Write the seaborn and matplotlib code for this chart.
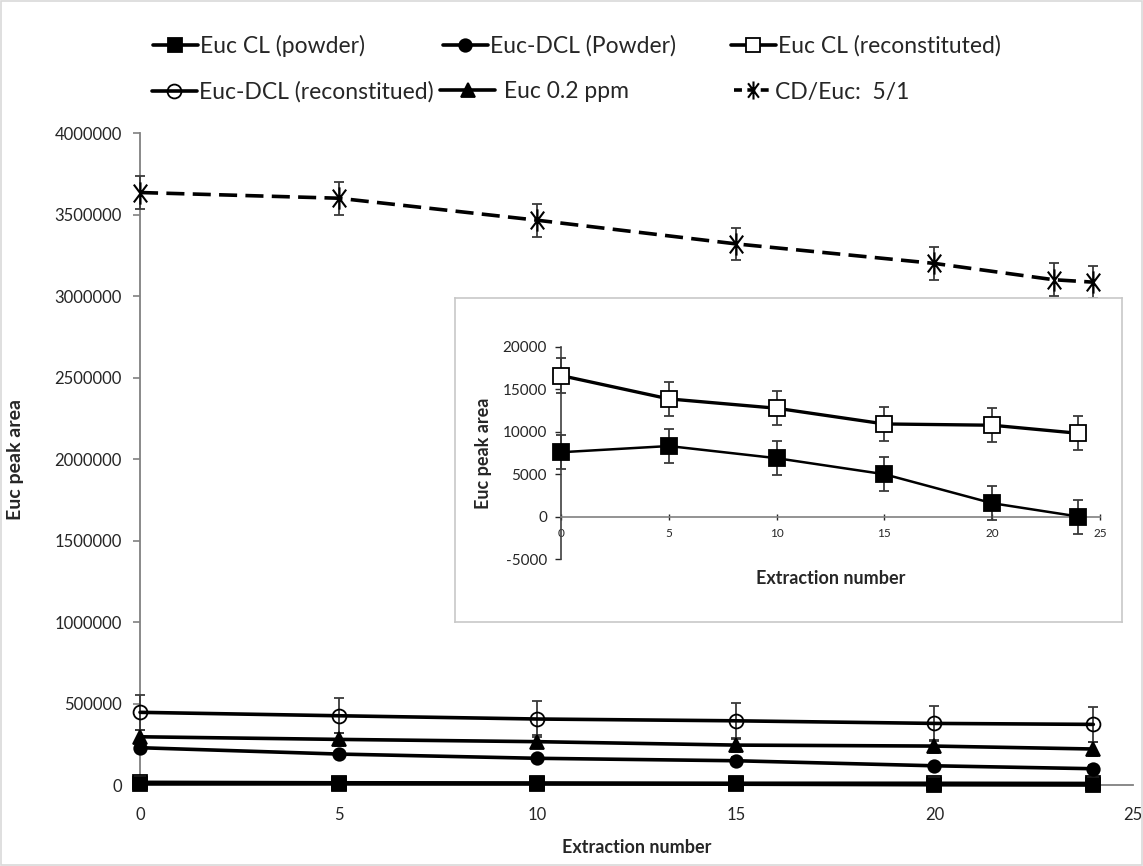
import numpy as np
import pandas as pd
import matplotlib
matplotlib.use("Agg")
import matplotlib.pyplot as plt
import seaborn as sns
from matplotlib.path import Path
from matplotlib.lines import Line2D
from matplotlib.patches import Rectangle

# ---------------- data ----------------
x_main = [0, 5, 10, 15, 20, 24]
x_cd = [0, 5, 10, 15, 20, 23, 24]

cl_powder = [7570, 8300, 6870, 4980, 1570, 0]
cl_powder_err = [2000, 2000, 2000, 2000, 2000, 2000]
cl_recon = [16600, 13850, 12750, 10900, 10750, 9800]
cl_recon_err = [2100, 2000, 2000, 2000, 2000, 2000]
dcl_powder = [229000, 190000, 164000, 149000, 118000, 100000]
dcl_powder_err = [20000, 20000, 20000, 20000, 20000, 20000]
dcl_recon = [446000, 425000, 405000, 394000, 378000, 372000]
dcl_recon_err = [108000, 108000, 108000, 108000, 108000, 108000]
euc_02 = [296000, 280000, 266000, 245000, 239000, 221000]
euc_02_err = [40000, 40000, 40000, 40000, 40000, 40000]
cd_euc = [3635000, 3600000, 3465000, 3320000, 3200000, 3100000, 3085000]
cd_euc_err = [100000, 100000, 100000, 100000, 100000, 100000, 100000]

labels = ["Euc CL (powder)", "Euc-DCL (Powder)", "Euc CL (reconstituted)",
          "Euc-DCL (reconstitued)", " Euc 0.2 ppm", "CD/Euc:  5/1"]
main_yticks = [0, 500000, 1000000, 1500000, 2000000, 2500000, 3000000, 3500000, 4000000]
main_xticks = [0, 5, 10, 15, 20, 25]
inset_yticks = [-5000, 0, 5000, 10000, 15000, 20000]
inset_xticks = [0, 5, 10, 15, 20, 25]

# ---------------- style ----------------
sns.set_style("white")
plt.rcParams['font.family'] = ['Lato', 'DejaVu Sans']

star = Path([(0, -1), (0, 1), (-0.6, -0.8), (0.6, 0.8), (-0.6, 0.8), (0.6, -0.8)],
            [Path.MOVETO, Path.LINETO, Path.MOVETO, Path.LINETO, Path.MOVETO, Path.LINETO])

ERR_C = '#3a3a3a'
AX_C = '#808080'

fig = plt.figure(figsize=(11.43, 8.66), dpi=100)
fig.patch.set_facecolor('white')
fig.patches.append(Rectangle((0.001, 0.001), 0.998, 0.998, transform=fig.transFigure,
                             fill=False, edgecolor='#d9d9d9', lw=1.2, zorder=0))

ax = fig.add_axes([0.1225, 0.0935, 0.8688, 0.7529])

# (x, y, err, marker kw, linestyle, zorder)
series = [
    (x_main, cl_powder, cl_powder_err, dict(marker='s', markersize=10, markerfacecolor='black'), '-', 6),
    (x_main, dcl_powder, dcl_powder_err, dict(marker='o', markersize=9, markerfacecolor='black'), '-', 5),
    (x_main, cl_recon, cl_recon_err, dict(marker='s', markersize=10, markerfacecolor='white'), '-', 4),
    (x_main, dcl_recon, dcl_recon_err, dict(marker='o', markersize=10, markerfacecolor='none'), '-', 4),
    (x_main, euc_02, euc_02_err, dict(marker='^', markersize=10, markerfacecolor='black'), '-', 5),
    (x_cd, cd_euc, cd_euc_err, dict(marker=star, markersize=16, markerfacecolor='black',
                                     markeredgewidth=1.5), '--', 4),
]

for xs, ys, es, mk, ls, zo in series:
    ax.errorbar(xs, ys, yerr=es, fmt='none', ecolor=ERR_C, elinewidth=1.3,
                capsize=3.5, capthick=1.3, clip_on=False, zorder=3)
    df = pd.DataFrame({'x': xs, 'y': ys})
    kw = dict(mk)
    kw.setdefault('markeredgewidth', 1.3)
    sns.lineplot(data=df, x='x', y='y', ax=ax, color='black', linewidth=2.6,
                 estimator=None, errorbar=None, legend=False,
                 markeredgecolor='black', clip_on=False, zorder=zo, **kw)
    if ls == '--':
        ax.lines[-1].set_linestyle((0, (5, 2.3)))

ax.set_xlim(0, 25)
ax.set_ylim(0, 4000000)
ax.set_xticks(main_xticks)
ax.set_yticks(main_yticks)
ax.set_yticklabels([str(v) for v in main_yticks])
ax.set_xticklabels([str(v) for v in main_xticks])
for side in ['top', 'right']:
    ax.spines[side].set_visible(False)
for side in ['left', 'bottom']:
    ax.spines[side].set_color(AX_C)
    ax.spines[side].set_linewidth(1.3)
ax.tick_params(axis='y', length=5, width=1.2, color=AX_C, labelsize=12, pad=8,
               direction='out', left=True)
ax.tick_params(axis='x', length=0, labelsize=12, pad=16)
ax.set_xlabel("Extraction number", fontsize=13, fontweight='bold', labelpad=11)
ax.set_ylabel("Euc peak area", fontsize=14, fontweight='bold')
ax.yaxis.set_label_coords(-0.117, 0.5)
ax.set_facecolor('none')
ax.grid(False)

# ---------------- inset ----------------
box = fig.add_axes([0.398, 0.2818, 0.5835, 0.3741])
box.set_xticks([]); box.set_yticks([])
box.set_facecolor('white')
for s in box.spines.values():
    s.set_color('#c8c8c8'); s.set_linewidth(1.2)
box.set_zorder(5)

ins = fig.add_axes([0.4908, 0.3545, 0.4716, 0.2452])
ins.set_zorder(6)
ins.set_facecolor('none')
for xs, ys, es, mk, ls, zo in [series[2], series[0]]:
    ins.errorbar(xs, ys, yerr=es, fmt='none', ecolor=ERR_C, elinewidth=1.3,
                 capsize=3.5, capthick=1.3, clip_on=False, zorder=3)
    df = pd.DataFrame({'x': xs, 'y': ys})
    kw = dict(mk)
    kw['markersize'] = 12
    sns.lineplot(data=df, x='x', y='y', ax=ins, color='black',
                 linewidth=2.4 if mk['markerfacecolor'] == 'white' else 1.8,
                 estimator=None, errorbar=None, legend=False, markeredgecolor='black',
                 markeredgewidth=1.3, clip_on=False, zorder=4, **kw)
ins.set_xlim(0, 25)
ins.set_ylim(-5000, 20000)
ins.set_xticks(inset_xticks)
ins.set_yticks(inset_yticks)
ins.set_yticklabels([str(v) for v in inset_yticks])
ins.set_xticklabels([str(v) for v in inset_xticks])
ins.spines['top'].set_visible(False)
ins.spines['right'].set_visible(False)
ins.spines['bottom'].set_position(('data', 0))
ins.spines['bottom'].set_color(AX_C)
ins.spines['left'].set_color('#404040')
ins.spines['left'].set_linewidth(1.2)
ins.spines['bottom'].set_linewidth(1.2)
ins.tick_params(axis='y', length=4, width=1.0, labelsize=11, direction='out', left=True, pad=6)
ins.tick_params(axis='x', length=4, width=1.0, labelsize=8.5, direction='inout', bottom=True, pad=6)
ins.set_xlabel("Extraction number", fontsize=13, fontweight='bold')
ins.xaxis.set_label_coords(0.5, -0.05)
ins.set_ylabel("Euc peak area", fontsize=13, fontweight='bold', labelpad=8)
ins.grid(False)

# ---------------- legend ----------------
def handle(mk, ls):
    kw = dict(mk)
    kw.setdefault('markeredgewidth', 1.3)
    if kw.get('marker') is star:
        kw['markersize'] = 13
    return Line2D([], [], color='black', lw=2.6,
                  linestyle=(0, (2.2, 1.5)) if ls == '--' else '-',
                  markeredgecolor='black', **kw)

legend_pos = [(153, 46), (443, 46), (731, 46), (152, 92), (440, 92), (734, 92)]
handle_len = [1.95, 1.95, 1.95, 1.95, 2.4, 1.65]
W, H = 1143, 866
for i, (px, py) in enumerate(legend_pos):
    xs, ys, es, mk, ls, zo = series[i]
    fig.legend([handle(mk, ls)], [labels[i]], loc='center left',
               bbox_to_anchor=(px / W, 1 - py / H), frameon=False,
               fontsize=16.5, handlelength=handle_len[i], handletextpad=0.12,
               borderpad=0, borderaxespad=0)

fig.savefig("out.png", dpi=100, facecolor='white')
